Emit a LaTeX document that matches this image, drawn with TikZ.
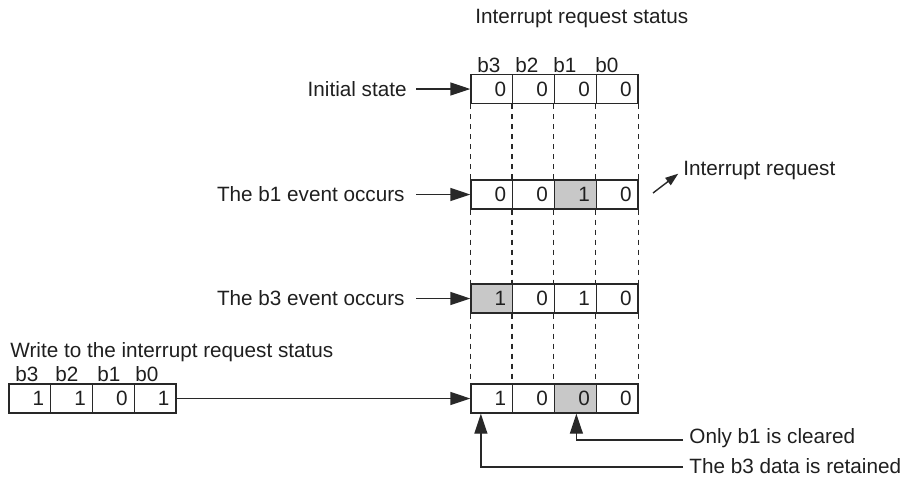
\documentclass[tikz,border=0pt]{standalone}
\usepackage{fontspec}
\setmainfont{Liberation Sans}
\usetikzlibrary{positioning,arrows.meta}
\definecolor{inkgray}{RGB}{40,40,40}
\definecolor{setgray}{RGB}{200,200,200}

\begin{document}
\begin{tikzpicture}[x=0.5pt,y=-0.5pt,
  every node/.style={font=\fontsize{10.35pt}{12pt}\selectfont,text=black!88,inner sep=0pt},
  cell/.style={draw=inkgray,line width=0.7pt,minimum width=20.875pt,minimum height=14.5pt,
    text width=14.375pt,align=right},
  setcell/.style={cell,fill=setgray},
  arr/.style={draw=inkgray,line width=0.7pt,-{Triangle[length=10pt,width=6.5pt]}},
  arrsmall/.style={draw=inkgray,line width=0.7pt,-{Triangle[length=6.5pt,width=4.5pt]}},
  guide/.style={draw=inkgray,line width=0.6pt,dash pattern=on 2.5pt off 2.5pt}]
\useasboundingbox (0,0) rectangle (903,478);
% Title
\node[anchor=base west] (title) at (475,23) {Interrupt request status};
\foreach \b/\x in {b3/477,b2/515,b1/553,b0/595}
  \node[anchor=base west] (top-\b) at (\x,72) {\b};
% Initial state
\foreach \v/\s [count=\k from 0] in {0/cell,0/cell,0/cell,0/cell}
  \node[\s] (r1-\k) at (491.875+41.75*\k,89) {\v};
\node[anchor=east] (init) at (407,89) {Initial state};
\draw[arr,shorten <=4.5pt] (init) -- (r1-0);
% b1 event
\foreach \v/\s [count=\k from 0] in {0/cell,0/cell,1/setcell,0/cell}
  \node[\s] (r2-\k) at (491.875+41.75*\k,194.5) {\v};
\node[anchor=east] (evb1) at (405,194.5) {The b1 event occurs};
\draw[arr,shorten <=5.5pt] (evb1) -- (r2-0);
\node[anchor=base west] (irq) at (683,175) {Interrupt request};
\coordinate (irqfoot) at (653,193);
\draw[arrsmall,shorten >=3pt] (irqfoot) -- (irq.west);
% b3 event
\foreach \v/\s [count=\k from 0] in {1/setcell,0/cell,1/cell,0/cell}
  \node[\s] (r3-\k) at (491.875+41.75*\k,298.5) {\v};
\node[anchor=east] (evb3) at (405,298.5) {The b3 event occurs};
\draw[arr,shorten <=5.5pt] (evb3) -- (r3-0);
% After the write
\foreach \v/\s [count=\k from 0] in {1/cell,0/cell,0/setcell,0/cell}
  \node[\s] (r4-\k) at (491.875+41.75*\k,398.5) {\v};
% Guide lines between rows
\foreach \i [evaluate=\i as \ii using int(\i+1)] in {1,2,3} {
  \foreach \k in {0,1,2,3}
    \draw[guide] (r\i-\k.south west) -- (r\ii-\k.north west);
  \draw[guide] (r\i-3.south east) -- (r\ii-3.north east);
}
% Written value
\node[anchor=base west] (wrlabel) at (10,357) {Write to the interrupt request status};
\foreach \b/\x in {b3/15,b2/55,b1/97,b0/135}
  \node[anchor=base west] (wr-\b) at (\x,381) {\b};
\foreach \v/\s [count=\k from 0] in {1/cell,1/cell,0/cell,1/cell}
  \node[\s] (w-\k) at (29.875+41.75*\k,398.5) {\v};
\draw[arr] (w-3) -- (r4-0);
% Notes
\node[anchor=base west] (cleared) at (689,443) {Only b1 is cleared};
\node[anchor=base west] (kept) at (689,473) {The b3 data is retained};
\coordinate (clearedend) at (683,440);
\coordinate (keptend) at (683,467);
\draw[arr] (clearedend) -| ([xshift=0.5pt]r4-2.south);
\draw[arr] (keptend) -| ([xshift=-5.5pt]r4-0.south);
\end{tikzpicture}
\end{document}
